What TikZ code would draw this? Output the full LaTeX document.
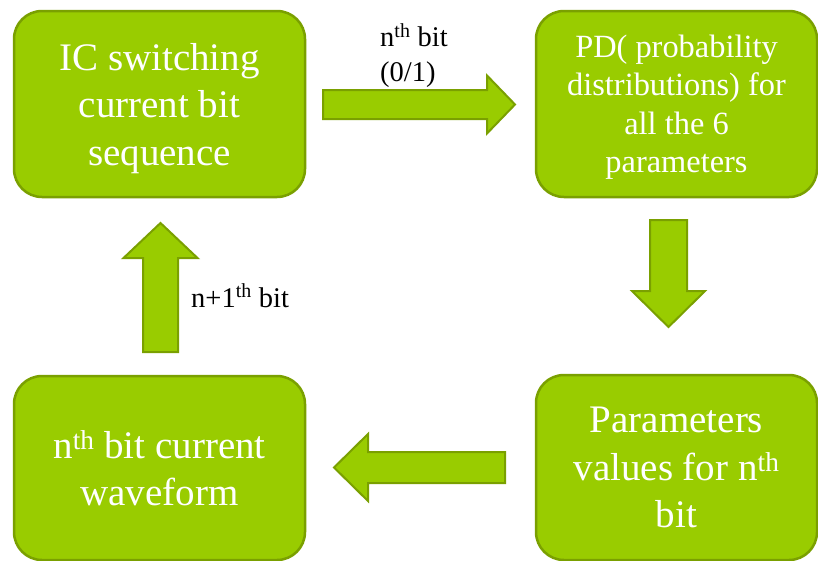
\documentclass[tikz,border=0pt]{standalone}
\usepackage{fontspec}
\setmainfont{Liberation Serif}
\usetikzlibrary{calc}

\definecolor{boxfill}{RGB}{153,204,0}
\definecolor{boxline}{RGB}{122,160,0}

\tikzset{
  stagebox/.style={draw=boxline, fill=boxfill, line width=2.5pt,
    rounded corners=28pt, align=center, text=white, inner sep=0pt,
    text depth=0pt},
  bigtext/.style={font=\fontsize{39}{47.5}\selectfont},
  midtext/.style={font=\fontsize{32.4}{38.5}\selectfont},
  flowlabel/.style={font=\fontsize{28.5}{34.5}\selectfont, text=black,
    inner sep=0pt, align=left},
  blockarrowstyle/.style={draw=boxline, fill=boxfill, line width=2pt,
    line join=miter},
}

% block arrow: start, tip, half shaft width, half head width, head length
\newcommand\blockarrow[5]{%
  \coordinate (#1hb) at ($(#2)!#5!(#1)$);
  \filldraw[blockarrowstyle]
    ($(#1)!#3!90:(#2)$) -- ($(#1hb)!#3!90:(#2)$) -- ($(#1hb)!#4!90:(#2)$)
    -- (#2) -- ($(#1hb)!#4!-90:(#2)$) -- ($(#1hb)!#3!-90:(#2)$)
    -- ($(#1)!#3!-90:(#2)$) -- cycle;
}

\begin{document}
\begin{tikzpicture}[x=1pt, y=-1pt]
  \path[use as bounding box, clip] (0,0) rectangle (818,560);
  \fill[white] (0,0) rectangle (818,560);

  % the four stages
  \node[stagebox, bigtext, minimum width=291pt, minimum height=186pt]
    (ic) at (159.5,104) {IC switching\\current bit\\sequence};
  \node[stagebox, midtext, minimum width=281pt, minimum height=186pt]
    (pd) at (676.5,104) {PD( probability\\distributions) for\\all the 6\\parameters};
  \node[stagebox, bigtext, minimum width=281pt, minimum height=185pt]
    (pv) at (676.5,467.5) {Parameters\\values for n\textsuperscript{th}\\bit};
  \node[stagebox, bigtext, minimum width=291pt, minimum height=184pt]
    (wf) at (159.5,468) {n\textsuperscript{th} bit current\\waveform};

  % arrow end points between the stages
  \coordinate (a1s) at (323,104.5);
  \coordinate (a1e) at (515,104.5);
  \coordinate (a2s) at (668.5,220);
  \coordinate (a2e) at (668.5,327);
  \coordinate (a3s) at (505,467.5);
  \coordinate (a3e) at (334,467.5);
  \coordinate (a4s) at (160.5,352);
  \coordinate (a4e) at (160.5,223);

  \blockarrow{a1s}{a1e}{14.5pt}{29pt}{28pt}
  \blockarrow{a2s}{a2e}{18.5pt}{36.5pt}{36pt}
  \blockarrow{a3s}{a3e}{15.5pt}{33.5pt}{34pt}
  \blockarrow{a4s}{a4e}{17.5pt}{37pt}{35pt}

  % arrow labels
  \node[flowlabel, anchor=west, text depth=0pt] (l1) at (380,52.5)
    {n\textsuperscript{th} bit\\(0/1)};
  \node[flowlabel, anchor=base west] (l2) at (191,307)
    {n+1\textsuperscript{th} bit};
\end{tikzpicture}
\end{document}
